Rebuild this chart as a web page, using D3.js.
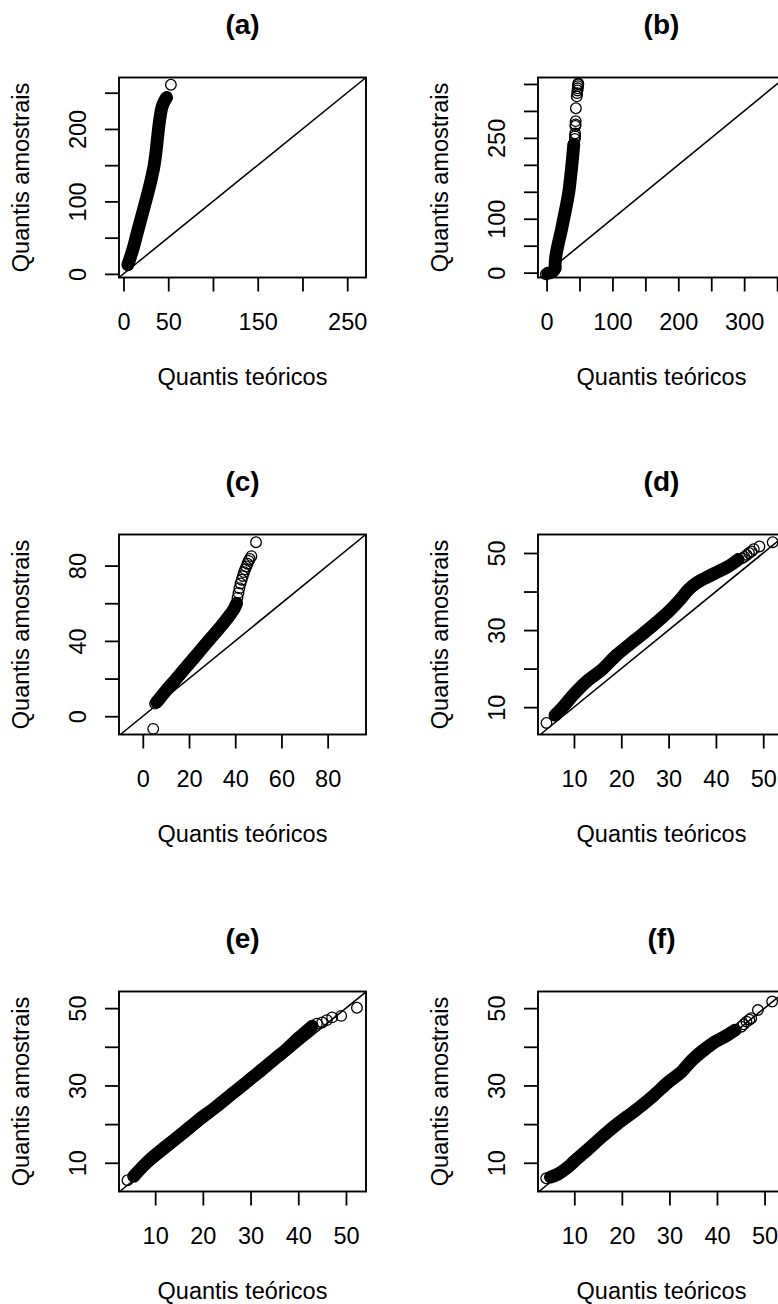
<!DOCTYPE html>
<html>
<head>
<meta charset="utf-8">
<script src="https://cdn.jsdelivr.net/npm/d3@7"></script>
<style>
  body { margin: 0; background: #fff; }
</style>
</head>
<body>
<div id="chart"></div>
<script>
// panel titles
var titles = ["(a)", "(b)", "(c)", "(d)", "(e)", "(f)"];

// axis limits, theoretical (x) and sample (y) quantiles
var xDomains = [[-5, 271], [-13, 362], [-10.3, 96.6], [2.4, 54.6], [2.42, 54.2], [2.37, 54.3]];
var yDomains = [[-5, 271], [-9, 362], [-9.7, 96.5], [2.9, 54.8], [2.57, 54.3], [2.57, 54.3]];

// ticks and the labels R kept (the others were dropped for overlap)
var xTicks = [
  [0, 50, 100, 150, 200, 250],
  [0, 50, 100, 150, 200, 250, 300, 350],
  [0, 20, 40, 60, 80],
  [10, 20, 30, 40, 50],
  [10, 20, 30, 40, 50],
  [10, 20, 30, 40, 50]
];
var xTickLabels = [
  [0, 50, 150, 250],
  [0, 100, 200, 300],
  [0, 20, 40, 60, 80],
  [10, 20, 30, 40, 50],
  [10, 20, 30, 40, 50],
  [10, 20, 30, 40, 50]
];
var yTicks = [
  [0, 50, 100, 150, 200, 250],
  [0, 50, 100, 150, 200, 250, 300, 350],
  [0, 20, 40, 60, 80],
  [10, 20, 30, 40, 50],
  [10, 20, 30, 40, 50],
  [10, 20, 30, 40, 50]
];
var yTickLabels = [
  [0, 100, 200],
  [0, 100, 250],
  [0, 40, 80],
  [10, 30, 50],
  [10, 30, 50],
  [10, 30, 50]
];

// dense part of each cloud: thousands of overlapping circles, read as a track
var bandA = [[5, 13], [8, 24], [11, 36], [15, 55], [20, 78], [25, 101], [30, 125], [34, 148], [36.5, 170], [38.6, 194], [40.5, 213], [43, 230], [46, 239], [48, 243]];
var bandB = [[2, -1], [6, 0], [10, 3], [13, 8], [13, 16], [14, 30], [18, 55], [22, 76], [26, 100], [30, 124], [33.8, 150], [36.8, 181], [39.4, 212], [41.3, 238]];
var bandC = [[6, 7.5], [8, 10.5], [11, 15], [13.9, 19], [18, 25], [22.6, 31.6], [27, 38], [31.2, 44], [35, 49.5], [37.7, 53.8], [39.5, 57], [40.6, 60]];
var bandD = [[6, 7.9], [8, 10.5], [10.1, 13.5], [13, 17], [15.8, 19.6], [19, 23.5], [22.9, 27.4], [26.5, 31], [30, 34.8], [32.5, 38], [34.2, 40.5], [36, 42.3], [38.4, 43.9], [40.5, 45.2], [42.6, 46.5], [44.7, 48.3]];
var bandE = [[5.5, 6.5], [8.6, 10.5], [12, 14], [15.6, 17.5], [19, 21], [22.6, 24.3], [26, 27.7], [29.6, 31.3], [32.5, 34.2], [35.2, 37], [37.5, 39.3], [40.1, 42.3], [42.9, 45.3]];
var bandF = [[5, 6.3], [6.6, 7.1], [8.5, 8.7], [10.1, 10.5], [13, 13.6], [15.7, 16.6], [19, 20], [22.8, 23.5], [26.5, 27.2], [29.8, 30.9], [32.5, 33.5], [34.7, 36.5], [37, 39], [39.6, 41.3], [42, 42.9], [43.8, 44.3]];

// sparse points, each drawn as a single open circle
var pointsA = [[4.7, 12], [47, 241], [48.5, 244], [53, 261]];
var pointsB = [[-1, -3], [43, 248], [43.2, 253], [43.4, 258], [43.8, 272], [44, 275], [44.2, 281], [44.5, 305], [45.8, 327], [46.5, 333], [47, 338], [47.3, 342], [47.8, 346], [48, 349], [48.2, 351]];
var pointsC = [[4.5, -6.7], [5.3, 6.7], [41, 63], [41.4, 65.5], [41.8, 68], [42.3, 70.5], [42.8, 72.5], [43.3, 74.5], [43.8, 76.5], [44.3, 78], [44.8, 79.5], [45.3, 81], [45.8, 82.5], [46.3, 83.5], [47, 85], [49, 92.4]];
var pointsD = [[4.2, 5.9], [45.5, 48.6], [46, 49], [46.5, 49.5], [47, 50], [47.5, 50.4], [48, 51], [49.2, 51.7], [52, 52.8]];
var pointsE = [[4.2, 5.5], [43.9, 46], [45, 46.3], [46, 46.9], [47.1, 47.6], [49, 48], [52.3, 50.1]];
var pointsF = [[4.1, 6], [45.1, 45.2], [45.6, 45.8], [46.2, 46.5], [46.8, 47], [47.2, 47.4], [48.6, 49.5], [51.6, 51.7]];

var bands = [bandA, bandB, bandC, bandD, bandE, bandF];
var points = [pointsA, pointsB, pointsC, pointsD, pointsE, pointsF];

var width = 778, height = 1304;
var boxW = 247, boxH = 200;
var colLeft = [119, 538],
    rowTop = [77.5, 534.5, 991.5];
var font = "'Liberation Sans', Arial, Helvetica, sans-serif";
var radius = 5.3, ring = 1.3;

var svg = d3.select("#chart")
    .append("svg")
        .attr("width", width)
        .attr("height", height)
        .style("display", "block");

titles.forEach(function(title, i) {
    var left = colLeft[i % 2],
        top = rowTop[Math.floor(i / 2)];

    var g = svg.append("g")
        .attr("transform", "translate(" + left + "," + top + ")");

    var x = d3.scaleLinear().domain(xDomains[i]).range([0, boxW]);
    var y = d3.scaleLinear().domain(yDomains[i]).range([boxH, 0]);

    // reference line y = x
    var lo = Math.max(xDomains[i][0], yDomains[i][0]),
        hi = Math.min(xDomains[i][1], yDomains[i][1]);
    g.append("line")
        .attr("x1", x(lo)).attr("y1", y(lo))
        .attr("x2", x(hi)).attr("y2", y(hi))
        .attr("stroke", "#000")
        .attr("stroke-width", 1.6);

    // overplotted cloud
    var track = d3.line()
        .x(function(d) { return x(d[0]); })
        .y(function(d) { return y(d[1]); })
        .curve(d3.curveCatmullRom);

    g.append("path")
        .attr("d", track(bands[i]))
        .attr("fill", "none")
        .attr("stroke", "#000")
        .attr("stroke-width", 2 * radius + ring + 1)
        .attr("stroke-linecap", "round")
        .attr("stroke-linejoin", "round");

    g.selectAll("circle.pt")
        .data(bands[i].concat(points[i]))
        .enter().append("circle")
            .attr("class", "pt")
            .attr("cx", function(d) { return x(d[0]); })
            .attr("cy", function(d) { return y(d[1]); })
            .attr("r", radius)
            .attr("fill", "none")
            .attr("stroke", "#000")
            .attr("stroke-width", ring);

    // x axis
    var xAxis = d3.axisBottom(x)
        .tickValues(xTicks[i])
        .tickSize(14)
        .tickSizeOuter(0)
        .tickFormat(function(d) { return xTickLabels[i].indexOf(d) >= 0 ? d : ""; });

    var gx = g.append("g")
        .attr("transform", "translate(0," + boxH + ")")
        .call(xAxis)
        .attr("font-size", 23.5)
        .attr("font-family", font);
    gx.select(".domain").remove();
    gx.selectAll(".tick line").attr("stroke-width", 1.8);
    gx.selectAll(".tick text").attr("y", 52.5).attr("dy", null);

    // y axis, labels parallel to the axis
    var yAxis = d3.axisLeft(y)
        .tickValues(yTicks[i])
        .tickSize(14)
        .tickSizeOuter(0)
        .tickFormat(function(d) { return yTickLabels[i].indexOf(d) >= 0 ? d : ""; });

    var gy = g.append("g")
        .call(yAxis)
        .attr("font-size", 23.5)
        .attr("font-family", font);
    gy.select(".domain").remove();
    gy.selectAll(".tick line").attr("stroke-width", 1.8);
    gy.selectAll(".tick text")
        .attr("x", 0)
        .attr("y", -33)
        .attr("dy", null)
        .attr("text-anchor", "middle")
        .attr("transform", "rotate(-90)");

    // box
    g.append("rect")
        .attr("width", boxW)
        .attr("height", boxH)
        .attr("fill", "none")
        .attr("stroke", "#000")
        .attr("stroke-width", 1.9);

    // titles and axis labels
    g.append("text")
        .attr("x", boxW / 2)
        .attr("y", -44)
        .attr("text-anchor", "middle")
        .attr("font-family", font)
        .attr("font-weight", "bold")
        .attr("font-size", 28)
        .text(title);

    g.append("text")
        .attr("x", boxW / 2)
        .attr("y", boxH + 107)
        .attr("text-anchor", "middle")
        .attr("font-family", font)
        .attr("font-size", 23.5)
        .text("Quantis teóricos");

    g.append("text")
        .attr("transform", "translate(-90," + (boxH / 2) + ") rotate(-90)")
        .attr("text-anchor", "middle")
        .attr("font-family", font)
        .attr("font-size", 23.5)
        .text("Quantis amostrais");
});
</script>
</body>
</html>
